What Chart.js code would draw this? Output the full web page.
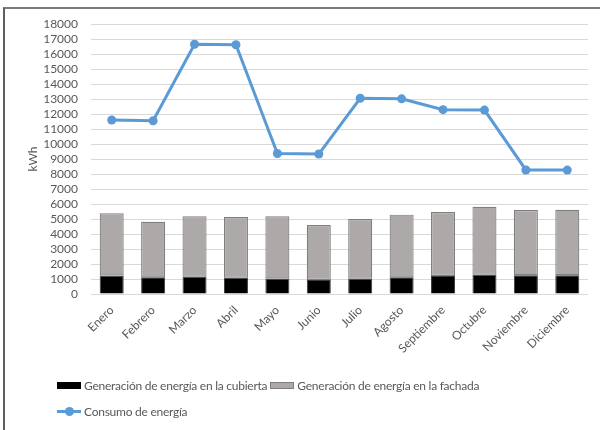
<!DOCTYPE html>
<html lang="es">
<head>
<meta charset="utf-8">
<title>Generación y consumo de energía</title>
<script src="https://cdn.jsdelivr.net/npm/chart.js@4.4.0/dist/chart.umd.min.js"></script>
<style>
  html, body { margin: 0; padding: 0; background: #fff; }
  #wrap { position: relative; width: 600px; height: 430px; overflow: hidden; font-family: Lato, "Open Sans", sans-serif; }
  #frame { position: absolute; left: 3px; top: 7px; width: 640px; height: 460px; border-top: 2px solid #7a7a7a; border-left: 2px solid #5f5f5f; box-sizing: border-box; pointer-events: none; }
  canvas { position: absolute; left: 0; top: 0; }
  .legend-row { position: absolute; left: 57px; display: flex; align-items: center; font-size: 12px; letter-spacing: -0.25px; color: #595959; white-space: nowrap; }
  .legend-item { display: flex; align-items: center; margin-right: 3px; }
  .swatch { width: 24px; height: 7px; box-sizing: border-box; margin-right: 3px; }
  .line-swatch { position: relative; width: 24px; height: 9px; margin-right: 3px; }
  .line-swatch::before { content: ""; position: absolute; left: 0; right: 0; top: 3px; height: 3px; background: #5B9BD5; }
  .line-swatch::after { content: ""; position: absolute; left: 8px; top: 0; width: 9px; height: 9px; border-radius: 50%; background: #5B9BD5; }
</style>
</head>
<body>
<div id="wrap">
  <canvas id="chart" width="600" height="430"></canvas>
  <div id="frame"></div>
  <div class="legend-row" id="legend1" style="top:378px"></div>
  <div class="legend-row" id="legend2" style="top:404px"></div>
</div>
<script>
// Meses del año
const meses = ['Enero', 'Febrero', 'Marzo', 'Abril', 'Mayo', 'Junio', 'Julio', 'Agosto', 'Septiembre', 'Octubre', 'Noviembre', 'Diciembre'];

// Generación mensual (kWh)
const generacionCubierta = [1240, 1110, 1150, 1090, 1040, 930, 1020, 1110, 1200, 1290, 1250, 1250];
const generacionFachada  = [4140, 3710, 4030, 4040, 4140, 3670, 3980, 4180, 4270, 4530, 4350, 4370];

// Consumo mensual (kWh)
const consumo = [11600, 11550, 16650, 16620, 9370, 9330, 13050, 13010, 12290, 12260, 8270, 8260];

// Nombres de las series
const nombreCubierta = 'Generación de energía en la cubierta';
const nombreFachada = 'Generación de energía en la fachada';
const nombreConsumo = 'Consumo de energía';

const tickFont = { family: 'Lato, "Open Sans", sans-serif', size: 12 };
const textColor = '#595959';

const ctx = document.getElementById('chart').getContext('2d');
const chart = new Chart(ctx, {
  data: {
    labels: meses,
    datasets: [
      {
        type: 'line',
        label: nombreConsumo,
        data: consumo,
        borderColor: '#5B9BD5',
        backgroundColor: '#5B9BD5',
        borderWidth: 3,
        pointRadius: 4.5,
        pointBorderWidth: 0,
        pointBackgroundColor: '#5B9BD5',
        tension: 0,
        order: 0
      },
      {
        type: 'bar',
        label: nombreCubierta,
        data: generacionCubierta,
        backgroundColor: '#000000',
        borderColor: '#3a3a3a',
        borderWidth: 1,
        stack: 'gen',
        order: 1
      },
      {
        type: 'bar',
        label: nombreFachada,
        data: generacionFachada,
        backgroundColor: '#ADA9A8',
        borderColor: '#7f7f7f',
        borderWidth: 1.2,
        borderSkipped: false,
        stack: 'gen',
        order: 1
      }
    ]
  },
  options: {
    responsive: false,
    animation: false,
    datasets: {
      bar: { categoryPercentage: 1, barPercentage: 0.58 }
    },
    layout: { padding: { left: 0, right: 12, top: 24, bottom: 76 } },
    plugins: {
      legend: { display: false },
      tooltip: { enabled: false }
    },
    scales: {
      x: {
        stacked: true,
        grid: { display: false, drawTicks: false },
        border: { display: false },
        ticks: {
          font: tickFont,
          color: textColor,
          minRotation: 45,
          maxRotation: 45,
          autoSkip: false,
          padding: 9
        },
        afterFit: (scale) => { scale.height = 60; }
      },
      y: {
        stacked: true,
        min: 0,
        max: 18000,
        grid: { color: '#d9d9d9', lineWidth: 1, drawTicks: false },
        border: { display: false },
        ticks: {
          stepSize: 1000,
          autoSkip: false,
          font: tickFont,
          color: textColor,
          padding: 13,
          callback: (v) => String(v)
        },
        title: {
          display: true,
          text: 'kWh',
          font: tickFont,
          color: textColor,
          padding: { top: 26, bottom: 0 }
        },
        afterFit: (scale) => { scale.width = 91; }
      }
    }
  }
});

// Leyenda en dos filas
function item(swatchHtml, text) {
  const el = document.createElement('div');
  el.className = 'legend-item';
  el.innerHTML = swatchHtml;
  const span = document.createElement('span');
  span.textContent = text;
  el.appendChild(span);
  return el;
}
const l1 = document.getElementById('legend1');
l1.appendChild(item('<div class="swatch" style="background:#000"></div>', nombreCubierta));
l1.appendChild(item('<div class="swatch" style="background:#ADA9A8;border:1px solid #7f7f7f"></div>', nombreFachada));
const l2 = document.getElementById('legend2');
l2.appendChild(item('<div class="line-swatch"></div>', nombreConsumo));
</script>
</body>
</html>
